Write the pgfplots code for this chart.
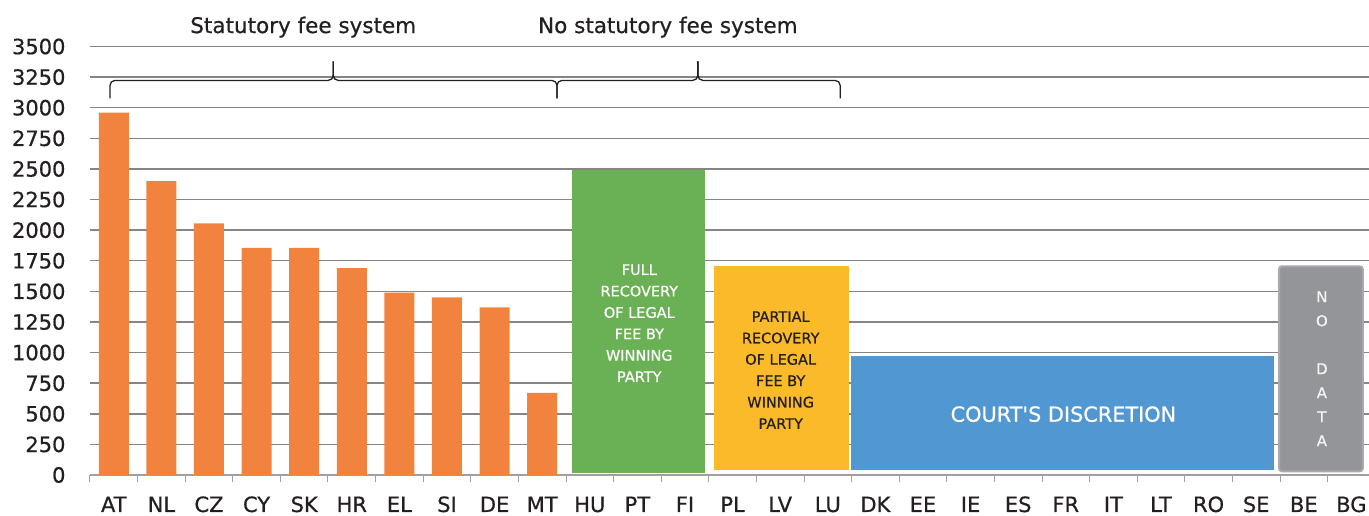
\documentclass[border=0pt]{standalone}
\usepackage{pgfplots}
\pgfplotsset{compat=1.18}
\usepackage{fontspec}
\setmainfont{DejaVu Sans}[Ligatures=TeXOff, UprightFeatures={FakeBold=0.6}]
\definecolor{barorange}{HTML}{F1833F}
\definecolor{boxgreen}{HTML}{6AB054}
\definecolor{boxyellow}{HTML}{FBBA29}
\definecolor{boxblue}{HTML}{5198D2}
\definecolor{boxgray}{HTML}{939598}
\definecolor{boxgrayedge}{HTML}{A7A9AC}
\definecolor{textdark}{HTML}{231F20}
\definecolor{gridgray}{HTML}{858585}
\definecolor{axisgray}{HTML}{A0A0A0}
\begin{document}
\begin{tikzpicture}
\useasboundingbox (-90pt,-41pt) rectangle (1279pt,475pt);
\begin{axis}[
  at={(0pt,0pt)}, anchor=south west,
  scale only axis, width=1285.2pt, height=428.5pt,
  xmin=-0.5, xmax=26.5, ymin=0, ymax=3500,
  clip=false,
  axis lines*=left,
  y axis line style={draw=none},
  x axis line style={draw=axisgray, line width=1.2pt},
  ytick={0,250,...,3500},
  ymajorgrids, grid style={draw=gridgray, line width=1.5pt},
  xtick={0,...,26},
  xticklabels={AT,NL,CZ,CY,SK,HR,EL,SI,DE,MT,HU,PT,FI,PL,LV,LU,DK,EE,IE,ES,FR,IT,LT,RO,SE,BE,BG},
  major tick length=0pt,
  minor xtick={-0.5,0.5,...,26.5},
  minor tick length=7pt,
  tick align=outside,
  minor tick style={draw=axisgray, line width=1pt},
  tick label style={font=\fontsize{21}{25}\selectfont, text=textdark},
  /pgf/number format/assume math mode=true,
  /pgf/number format/1000 sep={},
  yticklabel style={xshift=-21pt},
  xticklabel style={anchor=base, yshift=-37pt},
]
\addplot[ybar, bar width=30pt, fill=barorange, draw=none] coordinates {
  (0,2960) (1,2400) (2,2055) (3,1855) (4,1855) (5,1690) (6,1490) (7,1450) (8,1370) (9,670)
};
\addplot[fill=boxgreen, draw=none] coordinates {(9.63,15) (12.42,15) (12.42,2490) (9.63,2490)} -- cycle;
\addplot[fill=boxyellow, draw=none] coordinates {(12.61,40) (15.45,40) (15.45,1710) (12.61,1710)} -- cycle;
\addplot[fill=boxblue, draw=none] coordinates {(15.49,40) (24.37,40) (24.37,972) (15.49,972)} -- cycle;
\addplot[fill=boxgray, draw=boxgrayedge, line width=2pt, rounded corners=3pt] coordinates {(24.48,30) (26.24,30) (26.24,1705) (24.48,1705)} -- cycle;

\node[align=center, text=white, font=\fontsize{14.5}{21.4}\selectfont] at (axis cs:11.04,1240) {FULL\\RECOVERY\\OF LEGAL\\FEE BY\\WINNING\\PARTY};
\node[align=center, text=textdark, font=\fontsize{14.5}{21.4}\selectfont] at (axis cs:14.01,857) {PARTIAL\\RECOVERY\\OF LEGAL\\FEE BY\\WINNING\\PARTY};
\node[text=white, font=\fontsize{20.8}{25}\selectfont] at (axis cs:19.95,497) {COURT'S DISCRETION};
\node[align=center, text=white!92!gray, font=\fontsize{15}{24}\selectfont] at (axis cs:25.38,868) {N\\O\\[24pt]D\\A\\T\\A};

\draw[textdark, line width=1.3pt, rounded corners=5pt] (axis cs:-0.08,3076) -- (axis cs:-0.08,3223) -- (axis cs:4.61,3223) -- (axis cs:4.61,3378);
\draw[textdark, line width=1.3pt, rounded corners=5pt] (axis cs:4.61,3378) -- (axis cs:4.61,3223) -- (axis cs:9.31,3223) -- (axis cs:9.31,3076);
\draw[textdark, line width=1.3pt, rounded corners=5pt] (axis cs:9.31,3076) -- (axis cs:9.31,3223) -- (axis cs:12.27,3223) -- (axis cs:12.27,3378);
\draw[textdark, line width=1.3pt, rounded corners=5pt] (axis cs:12.27,3378) -- (axis cs:12.27,3223) -- (axis cs:15.26,3223) -- (axis cs:15.26,3076);

\node[anchor=base, text=textdark, font=\fontsize{21.5}{25}\selectfont] at (axis cs:3.98,3610) {Statutory fee system};
\node[anchor=base, text=textdark, font=\fontsize{21.5}{25}\selectfont] at (axis cs:11.64,3610) {No statutory fee system};
\end{axis}
\end{tikzpicture}
\end{document}
